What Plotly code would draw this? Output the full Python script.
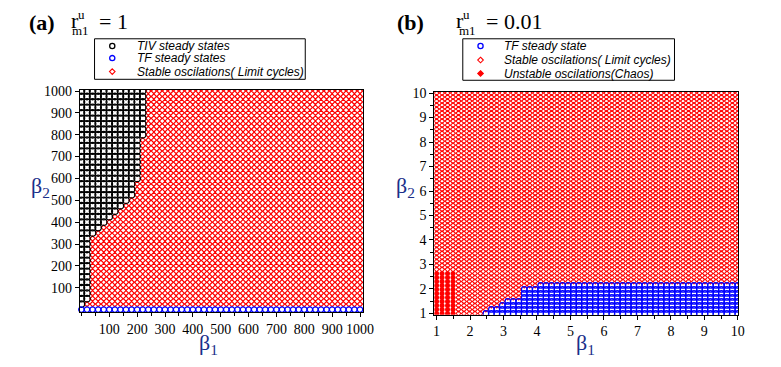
import numpy as np
import plotly.graph_objects as go

W, H = 781, 367

# ---------------- data : panel (a)  r_m1^u = 1 ----------------
beta1_a = list(range(0, 1001, 20))          # parameter sweep grid
beta2_a = list(range(0, 1001, 25))
tf_beta2_a = [0]                             # rows that end in TF steady states
# number of TIV (black) columns on each beta2 row, rows 25 .. 1000
tiv_cols_a = [1,
              2, 2, 2, 2, 2, 2, 2, 2, 2, 2, 2, 2,
              3, 4, 5, 6, 7, 8, 9,
              10, 10, 10,
              11, 11, 11, 11, 11, 11, 11, 11,
              12, 12, 12, 12, 12, 12, 12, 12, 12]

# ---------------- data : panel (b)  r_m1^u = 0.01 ----------------
beta1_b = list(np.round(np.linspace(1, 10, 56), 4))
beta2_b = list(np.round(np.linspace(1, 10, 56), 4))
chaos_beta1_max = 1.6
chaos_beta2_max = 2.7
tf_break_beta1 = [2.35, 2.5, 2.9, 3.1, 3.5, 4.1]
tf_top_beta2 = [1.05, 1.2, 1.4, 1.6, 2.0, 2.2]

xtick_a = [100, 200, 300, 400, 500, 600, 700, 800, 900, 1000]
ytick_a = [100, 200, 300, 400, 500, 600, 700, 800, 900, 1000]
tick_b = [1, 2, 3, 4, 5, 6, 7, 8, 9, 10]

# ---------------- classify panel (a) ----------------
tiv_x, tiv_y, tf_x, tf_y, st_x, st_y = [], [], [], [], [], []
for j, b2 in enumerate(beta2_a):
    for i, b1 in enumerate(beta1_a):
        if b2 in tf_beta2_a:
            tf_x.append(b1); tf_y.append(b2)
        elif i < tiv_cols_a[j - 1]:
            tiv_x.append(b1); tiv_y.append(b2)
        else:
            st_x.append(b1); st_y.append(b2)

# ---------------- classify panel (b) ----------------
tfb_x, tfb_y, stb_x, stb_y, ch_x, ch_y = [], [], [], [], [], []
for b2 in beta2_b:
    for b1 in beta1_b:
        top = None
        for brk, t in zip(tf_break_beta1, tf_top_beta2):
            if b1 >= brk:
                top = t
        if b1 <= chaos_beta1_max and b2 <= chaos_beta2_max:
            ch_x.append(b1); ch_y.append(b2)
        elif top is not None and b2 <= top:
            tfb_x.append(b1); tfb_y.append(b2)
        else:
            stb_x.append(b1); stb_y.append(b2)

RED = "#ff0000"
BLUE = "#0000ff"

fig = go.Figure()
fig.add_trace(go.Scatter(x=st_x, y=st_y, mode="markers", xaxis="x", yaxis="y",
                         marker=dict(symbol="diamond-open", size=4, color=RED, line=dict(width=1.2, color=RED)),
                         showlegend=False, hoverinfo="skip"))
fig.add_trace(go.Scatter(x=tiv_x, y=tiv_y, mode="markers", xaxis="x", yaxis="y",
                         marker=dict(symbol="circle-open", size=6.5, color="black", line=dict(width=1.3, color="black")),
                         showlegend=False, hoverinfo="skip"))
fig.add_trace(go.Scatter(x=tf_x, y=tf_y, mode="markers", xaxis="x", yaxis="y",
                         marker=dict(symbol="circle-open", size=5.5, color=BLUE, line=dict(width=1.3, color=BLUE)),
                         showlegend=False, hoverinfo="skip", cliponaxis=False))

fig.add_trace(go.Scatter(x=stb_x, y=stb_y, mode="markers", xaxis="x2", yaxis="y2",
                         marker=dict(symbol="diamond-open", size=3.8, color=RED, line=dict(width=1.1, color=RED)),
                         showlegend=False, hoverinfo="skip"))
fig.add_trace(go.Scatter(x=tfb_x, y=tfb_y, mode="markers", xaxis="x2", yaxis="y2",
                         marker=dict(symbol="circle-open", size=5.5, color=BLUE, line=dict(width=1.2, color=BLUE)),
                         showlegend=False, hoverinfo="skip"))
fig.add_trace(go.Scatter(x=ch_x, y=ch_y, mode="markers", xaxis="x2", yaxis="y2",
                         marker=dict(symbol="circle", size=5, color=RED, line=dict(width=0)),
                         showlegend=False, hoverinfo="skip"))


def P(x):
    return x / W


def Q(y):
    return 1 - y / H


axis_common = dict(showline=True, linecolor="black", linewidth=1, mirror=True,
                   ticks="outside", ticklen=4, tickcolor="black", tickwidth=1,
                   showgrid=False, zeroline=False,
                   tickfont=dict(family="Liberation Serif", size=14, color="black"))

fig.update_layout(
    width=W, height=H, margin=dict(l=0, r=0, t=0, b=0),
    paper_bgcolor="white", plot_bgcolor="white",
    xaxis=dict(domain=[P(80), P(368)], range=[-6, 1012], anchor="y",
               tickmode="array", tickvals=xtick_a,
               minor=dict(ticks="outside", ticklen=3, dtick=50, tick0=0, tickcolor="black"),
               **axis_common),
    yaxis=dict(domain=[Q(317), Q(87)], range=[-10, 1005], anchor="x",
               tickmode="array", tickvals=ytick_a, **axis_common),
    xaxis2=dict(domain=[P(440), P(749)], range=[0.93, 10.02], anchor="y2",
                tickmode="array", tickvals=tick_b,
                minor=dict(ticks="outside", ticklen=3, dtick=0.5, tick0=0, tickcolor="black"),
                **axis_common),
    yaxis2=dict(domain=[Q(320), Q(89)], range=[0.95, 10.05], anchor="x2",
                tickmode="array", tickvals=tick_b,
                minor=dict(ticks="outside", ticklen=3, dtick=0.5, tick0=0, tickcolor="black"),
                **axis_common),
)

ann = []
serif = "Liberation Serif"


def text(x, y, s, size, xanchor="center", color="black", family=serif):
    ann.append(dict(x=P(x), y=Q(y), xref="paper", yref="paper", text=s, showarrow=False,
                    xanchor=xanchor, yanchor="middle",
                    font=dict(family=family, size=size, color=color)))


# panel titles
text(41.5, 17, "<b>(a)</b>", 22)
text(75.5, 15, "r", 22)
text(82, 9, "u", 13)
text(81, 25, "m1", 13)
text(98, 16, "= 1", 22, xanchor="left")

text(415.5, 17, "<b>(b)</b>", 22)
text(466.5, 15, "r", 22)
text(473, 9, "u", 13)
text(474, 25, "m1", 13)
text(491, 16, "= 0.01", 22, xanchor="left")

# axis titles
NAVY = "#1a2f8a"
text(40, 188, "β<sub>2</sub>", 22, color=NAVY)
text(211, 350, "β<sub>1</sub>", 22, color=NAVY)
text(411, 188, "β<sub>2</sub>", 22, color=NAVY)
text(594, 350, "β<sub>1</sub>", 22, color=NAVY)

# legends
shapes = []
shapes.append(dict(type="rect", xref="paper", yref="paper", x0=P(95), x1=P(309), y0=Q(76), y1=Q(34),
                   line=dict(color="black", width=1), fillcolor="white", layer="above"))
shapes.append(dict(type="rect", xref="paper", yref="paper", x0=P(469), x1=P(684), y0=Q(77), y1=Q(34),
                   line=dict(color="black", width=1), fillcolor="white", layer="above"))


def circ(x, y, color, r=2.6):
    shapes.append(dict(type="circle", xref="paper", yref="paper", xsizemode="pixel", ysizemode="pixel",
                       xanchor=P(x), yanchor=Q(y), x0=-r, x1=r, y0=-r, y1=r,
                       line=dict(color=color, width=1.3), layer="above"))


def diam(x, y, color, filled=False, r=2.8):
    shapes.append(dict(type="path", xref="paper", yref="paper", xsizemode="pixel", ysizemode="pixel",
                       xanchor=P(x), yanchor=Q(y),
                       path=f"M0,{r} L{r},0 L0,-{r} L-{r},0 Z",
                       line=dict(color=color, width=1.1),
                       fillcolor=color if filled else "rgba(0,0,0,0)", layer="above"))


sans = "Liberation Sans"
circ(113, 41.5, "black")
text(136, 41.5, "<i>TIV steady states</i>", 12, xanchor="left", family=sans)
circ(113, 54, BLUE)
text(136, 54, "<i>TF steady states</i>", 12, xanchor="left", family=sans)
diam(113, 68, RED)
text(136, 68, "<i>Stable oscilations( Limit cycles)</i>", 12, xanchor="left", family=sans)

circ(487, 41.5, BLUE)
text(509, 41.5, "<i>TF steady state</i>", 12, xanchor="left", family=sans)
diam(487, 56, RED)
text(509, 56, "<i>Stable oscilations( Limit cycles)</i>", 12, xanchor="left", family=sans)
diam(487, 70, RED, filled=True)
text(509, 70, "<i>Unstable oscilations(Chaos)</i>", 12, xanchor="left", family=sans)

fig.update_layout(annotations=ann, shapes=shapes)

fig.write_html("out.html", config={"displayModeBar": False},
               post_script="document.body.style.margin='0';document.body.style.overflow='hidden';")
